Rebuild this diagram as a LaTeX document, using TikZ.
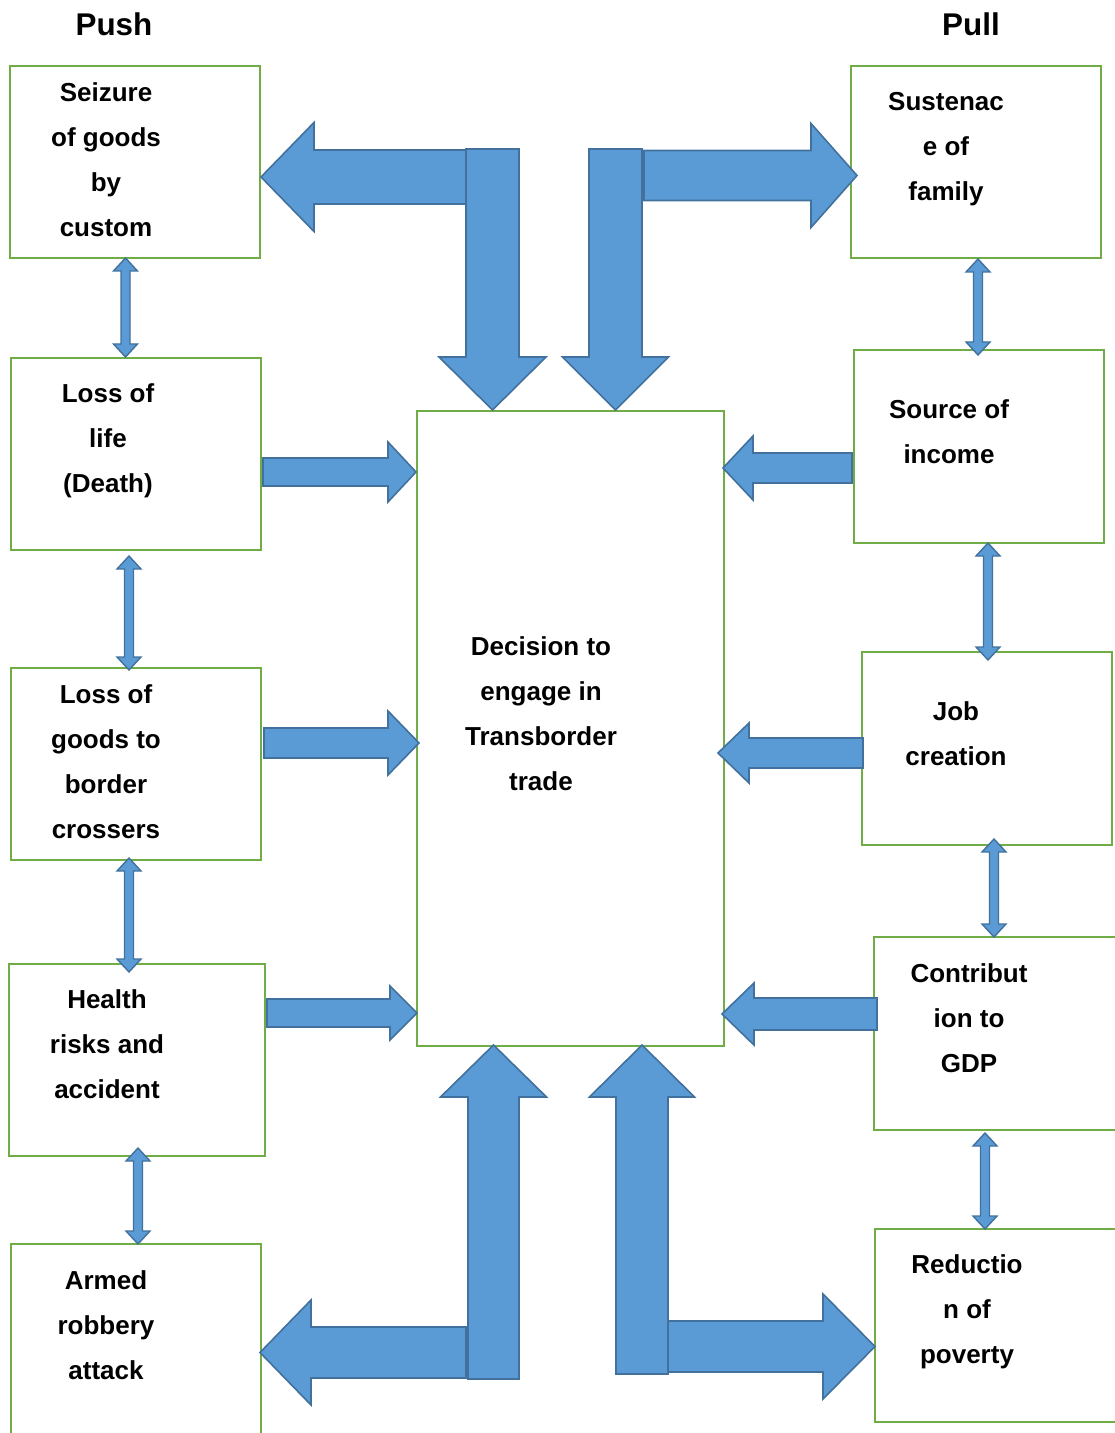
\documentclass[tikz,border=0pt]{standalone}
\usepackage{fontspec}
\setmainfont{Liberation Sans}
\definecolor{boxgreen}{HTML}{70AD47}
\definecolor{arrfill}{HTML}{5B9BD5}
\definecolor{arrline}{HTML}{41719C}
\tikzset{
  box/.style={draw=boxgreen, line width=1.2pt, rectangle, inner sep=0pt, fill=none},
  txt/.style={align=center, inner sep=0pt, font=\fontsize{13}{22.5}\selectfont\bfseries},
  ttl/.style={inner sep=0pt, font=\fontsize{15.7}{18}\selectfont\bfseries},
  blk/.style={fill=arrfill, draw=arrline, line width=0.8pt, line join=miter}
}
% horizontal block arrow: tail x, head base x, tip x, y centre, shaft half, head half
\newcommand{\harr}[6]{\filldraw[blk] (#1,{#4-#5}) -- (#2,{#4-#5}) -- (#2,{#4-#6}) -- (#3,#4) -- (#2,{#4+#6}) -- (#2,{#4+#5}) -- (#1,{#4+#5}) -- cycle;}
% vertical block arrow: x centre, tail y, head base y, tip y, shaft half, head half
\newcommand{\varr}[6]{\filldraw[blk] ({#1-#5},#2) -- ({#1-#5},#3) -- ({#1-#6},#3) -- (#1,#4) -- ({#1+#6},#3) -- ({#1+#5},#3) -- ({#1+#5},#2) -- cycle;}
% vertical double block arrow: x centre, top tip y, bottom tip y
\newcommand{\vdbl}[3]{\filldraw[blk, line width=0.7pt] (#1,#2) -- ({#1+12},{#2+13}) -- ({#1+4.5},{#2+13}) -- ({#1+4.5},{#3-13}) -- ({#1+12},{#3-13}) -- (#1,#3) -- ({#1-12},{#3-13}) -- ({#1-4.5},{#3-13}) -- ({#1-4.5},{#2+13}) -- ({#1-12},{#2+13}) -- cycle;}
\begin{document}
\begin{tikzpicture}[x=0.5pt, y=-0.5pt]
\useasboundingbox (0,0) rectangle (1114,1433);

% titles
\node[ttl] (push) at (114,24) {Push};
\node[ttl] (pull) at (971,24) {Pull};

% boxes left
\node[box, minimum width=125pt, minimum height=96pt] (L1) at (135,162) {};
\node[box, minimum width=125pt, minimum height=96pt] (L2) at (136,454) {};
\node[box, minimum width=125pt, minimum height=96pt] (L3) at (136,764) {};
\node[box, minimum width=128pt, minimum height=96pt] (L4) at (137,1060) {};
\node[box, minimum width=125pt, minimum height=96pt] (L5) at (136,1340) {};
% boxes right
\node[box, minimum width=125pt, minimum height=96pt] (R1) at (976,162) {};
\node[box, minimum width=125pt, minimum height=96.5pt] (R2) at (979,446.5) {};
\node[box, minimum width=125pt, minimum height=96.5pt] (R3) at (987,748.5) {};
\node[box, minimum width=125pt, minimum height=96.5pt] (R4) at (999,1033.5) {};
\node[box, minimum width=125pt, minimum height=96.5pt] (R5) at (1000,1325.5) {};
% centre
\node[box, minimum width=153.5pt, minimum height=317.5pt] (C) at (570.5,728.5) {};

% texts
\node[txt] (tL1) at (106,159.5) {Seizure\\of goods\\by\\custom};
\node[txt] (tL2) at (108,441) {Loss of\\life\\(Death)};
\node[txt] (tL3) at (106,761.5) {Loss of\\goods to\\border\\crossers};
\node[txt] (tL4) at (107,1044.5) {Health\\risks and\\accident};
\node[txt] (tL5) at (106,1325) {Armed\\robbery\\attack};
\node[txt] (tR1) at (946,149.5) {Sustenac\\e of\\family};
\node[txt] (tR2) at (949,431.5) {Source of\\income};
\node[txt] (tR3) at (956,733.5) {Job\\creation};
\node[txt] (tR4) at (969,1018) {Contribut\\ion to\\GDP};
\node[txt] (tR5) at (967,1312) {Reductio\\n of\\poverty};
\node[txt] (tC) at (541,713.5) {Decision to\\engage in\\Transborder\\trade};

% top-left L arrow
\harr{466}{314}{261}{177}{27}{54.5}
\varr{492.5}{149}{357}{410}{26.5}{53.5}
% top-right L arrow
\varr{615.5}{149}{357}{410}{26.5}{53}
\harr{644}{811}{857}{175.5}{25}{52}
% bottom-left L arrow
\harr{466}{311}{260}{1352.5}{25.5}{52.5}
\varr{493.5}{1379}{1097}{1045}{25.5}{53}
% bottom-right L arrow
\varr{642}{1374}{1097}{1045}{26}{52.5}
\harr{668}{823}{875}{1346.5}{25.5}{52.5}

% side arrows into centre
\harr{263}{388}{416}{472}{14}{30}
\harr{264}{388}{419}{743}{15}{32}
\harr{267}{390}{417}{1013}{14}{27}
\harr{852}{753}{723}{468}{15}{32}
\harr{863}{749}{718}{753}{15}{30}
\harr{877}{754}{722}{1014}{16}{31}

% double arrows
\vdbl{125.5}{258}{357}
\vdbl{129}{556}{670}
\vdbl{129}{858}{972}
\vdbl{138}{1148}{1244}
\vdbl{978}{259}{355}
\vdbl{988}{543}{660}
\vdbl{994}{839}{937}
\vdbl{985}{1133}{1229}
\end{tikzpicture}
\end{document}
